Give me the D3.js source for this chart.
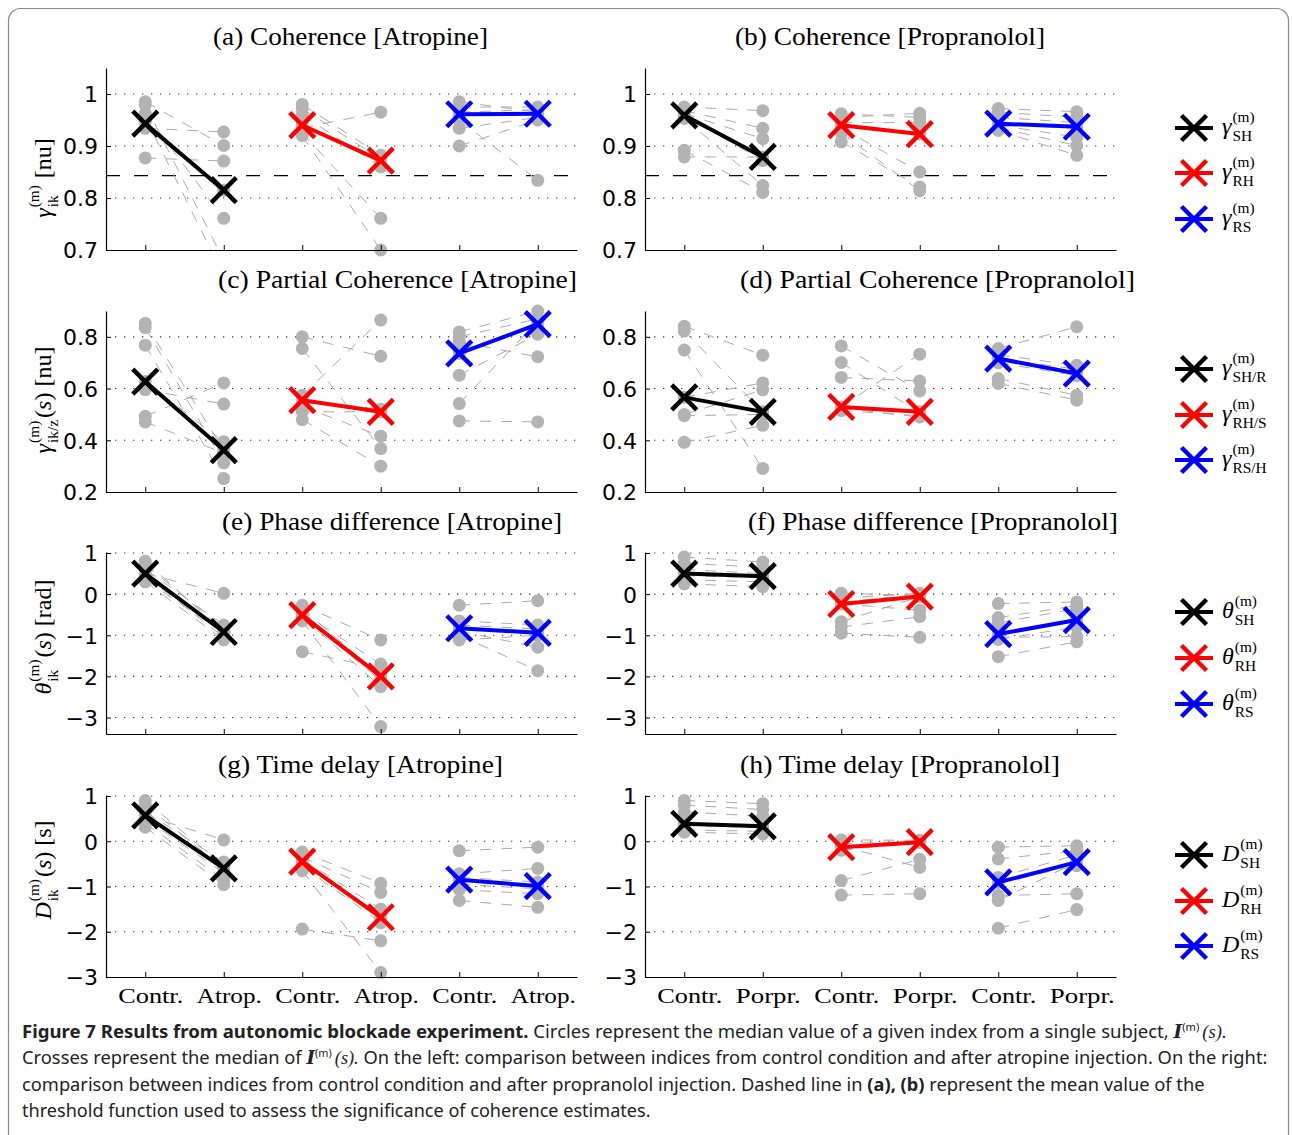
<!DOCTYPE html>
<html><head><meta charset="utf-8">
<script src="https://cdn.jsdelivr.net/npm/d3@7/dist/d3.min.js"></script>
<style>
body{margin:0;background:#fff;}
svg{display:block;}
</style></head>
<body>
<svg id="chart" width="1292" height="1135"></svg>
<script>
// ================= DATA =================
const groupNames = ["SH", "RH", "RS"];
const groupColors = ["#000000", "#ff0000", "#0000ff"];
const xTickLabelsLeft = ["Contr.", "Atrop.", "Contr.", "Atrop.", "Contr.", "Atrop."];
const xTickLabelsRight = ["Contr.", "Porpr.", "Contr.", "Porpr.", "Contr.", "Porpr."];
const panelTitles = [
  "(a) Coherence [Atropine]", "(b) Coherence [Propranolol]",
  "(c) Partial Coherence [Atropine]", "(d) Partial Coherence [Propranolol]",
  "(e) Phase difference [Atropine]", "(f) Phase difference [Propranolol]",
  "(g) Time delay [Atropine]", "(h) Time delay [Propranolol]"
];
const yTicksCoh = [0.7, 0.8, 0.9, 1];
const yTickLabelsCoh = ["0.7", "0.8", "0.9", "1"];
const yTicksPCoh = [0.2, 0.4, 0.6, 0.8];
const yTickLabelsPCoh = ["0.2", "0.4", "0.6", "0.8"];
const yTicksPhase = [-3, -2, -1, 0, 1];
const yTickLabelsPhase = ["\u22123", "\u22122", "\u22121", "0", "1"];
const yTicksDelay = [-3, -2, -1, 0, 1];
const yTickLabelsDelay = ["\u22123", "\u22122", "\u22121", "0", "1"];
const thresholdCoh = 0.843;

// per panel: [SH, RH, RS] subjects, control vs treatment (paired by index)
const a_contr = [[0.985, 0.979, 0.963, 0.946, 0.934, 0.877, 0.955],
                 [0.98, 0.972, 0.96, 0.94, 0.935, 0.925, 0.92],
                 [0.985, 0.975, 0.965, 0.961, 0.95, 0.934, 0.90]];
const a_treat = [[0.901, 0.68, 0.761, 0.815, 0.927, 0.871, 0.65],
                 [0.882, 0.875, 0.86, 0.872, 0.965, 0.761, 0.70],
                 [0.965, 0.975, 0.97, 0.962, 0.834, 0.955, 0.95]];
const a_median = [[0.943, 0.815], [0.940, 0.872], [0.961, 0.962]];

const b_contr = [[0.975, 0.968, 0.962, 0.959, 0.953, 0.892, 0.879],
                 [0.962, 0.955, 0.945, 0.94, 0.935, 0.925, 0.908],
                 [0.972, 0.965, 0.955, 0.943, 0.94, 0.935, 0.93]];
const b_treat = [[0.968, 0.934, 0.914, 0.872, 0.824, 0.811, 0.879],
                 [0.955, 0.963, 0.945, 0.923, 0.85, 0.814, 0.821],
                 [0.966, 0.955, 0.945, 0.937, 0.917, 0.901, 0.882]];
const b_median = [[0.959, 0.879], [0.940, 0.923], [0.943, 0.937]];

const c_contr = [[0.852, 0.836, 0.768, 0.627, 0.596, 0.493, 0.471],
                 [0.80, 0.755, 0.574, 0.555, 0.53, 0.51, 0.48],
                 [0.819, 0.80, 0.78, 0.736, 0.652, 0.542, 0.475]];
const c_treat = [[0.362, 0.313, 0.252, 0.394, 0.54, 0.622, 0.35],
                 [0.725, 0.368, 0.865, 0.52, 0.416, 0.51, 0.30],
                 [0.90, 0.87, 0.723, 0.849, 0.81, 0.86, 0.471]];
const c_median = [[0.627, 0.362], [0.555, 0.51], [0.736, 0.849]];

const d_contr = [[0.841, 0.823, 0.749, 0.566, 0.50, 0.495, 0.392],
                 [0.765, 0.701, 0.643, 0.529, 0.525, 0.52, 0.515],
                 [0.755, 0.73, 0.716, 0.716, 0.70, 0.639, 0.62]];
const d_treat = [[0.729, 0.51, 0.291, 0.622, 0.595, 0.50, 0.458],
                 [0.591, 0.505, 0.629, 0.733, 0.49, 0.51, 0.495],
                 [0.839, 0.69, 0.675, 0.658, 0.65, 0.574, 0.555]];
const d_median = [[0.566, 0.51], [0.529, 0.51], [0.716, 0.658]];

const e_contr = [[0.80, 0.72, 0.60, 0.50, 0.45, 0.35, 0.30],
                 [-0.27, -0.35, -0.45, -0.51, -0.55, -0.65, -1.40],
                 [-0.27, -0.65, -0.75, -0.83, -0.9, -1.0, -1.115]];
const e_treat = [[-0.92, -0.85, -0.75, 0.02, -1.05, -0.95, -1.11],
                 [-1.115, -2.0, -1.70, -2.1, -2.25, -3.22, -1.80],
                 [-0.16, -0.75, -0.85, -0.94, -1.29, -1.86, -1.0]];
const e_median = [[0.50, -0.92], [-0.51, -2.0], [-0.83, -0.94]];

const f_contr = [[0.90, 0.75, 0.60, 0.50, 0.45, 0.35, 0.25],
                 [0.02, -0.10, -0.20, -0.24, -0.67, -0.80, -0.95],
                 [-0.23, -0.57, -0.70, -0.97, -1.05, -1.1, -1.52]];
const f_treat = [[0.78, 0.65, 0.50, 0.44, 0.40, 0.30, 0.18],
                 [-0.03, 0.02, 0.0, -0.39, -0.06, -0.55, -1.05],
                 [-0.19, -0.28, -0.35, -0.63, -1.03, -0.80, -1.16]];
const f_median = [[0.50, 0.436], [-0.24, -0.06], [-0.97, -0.63]];

const g_contr = [[0.90, 0.80, 0.65, 0.57, 0.50, 0.40, 0.31],
                 [-0.24, -0.35, -0.40, -0.45, -0.55, -0.65, -1.94],
                 [-0.21, -0.72, -0.80, -0.85, -0.95, -1.07, -1.31]];
const g_treat = [[-0.55, -0.60, -0.46, 0.03, -0.70, -0.85, -0.96],
                 [-0.93, -1.13, -1.50, -1.68, -1.80, -2.90, -2.20],
                 [-0.13, -0.60, -0.90, -0.99, -1.05, -1.16, -1.46]];
const g_median = [[0.57, -0.60], [-0.45, -1.68], [-0.85, -0.99]];

const h_contr = [[0.90, 0.80, 0.65, 0.39, 0.35, 0.25, 0.20],
                 [0.03, -0.05, -0.10, -0.13, -0.20, -0.87, -1.19],
                 [-0.13, -0.39, -0.80, -0.91, -1.20, -1.31, -1.92]];
const h_treat = [[0.83, 0.70, 0.55, 0.33, 0.30, 0.22, 0.16],
                 [0.02, 0.0, -0.58, -0.02, -0.02, -0.40, -1.16],
                 [-0.10, -0.21, -0.30, -0.54, -1.16, -0.46, -1.51]];
const h_median = [[0.385, 0.33], [-0.13, -0.02], [-0.91, -0.46]];

const legendBases = ["\u03B3", "\u03B3", "\u03B8", "D"];
const legendSubs = [["SH", "RH", "RS"], ["SH/R", "RH/S", "RS/H"], ["SH", "RH", "RS"], ["SH", "RH", "RS"]];

// ================= LAYOUT =================
const svg = d3.select("#chart");
const SERIF = "'Liberation Serif','DejaVu Serif',serif";
const SANS = "'DejaVu Sans','Liberation Sans',sans-serif";
const CAP = "'Noto Sans','Open Sans',sans-serif";

svg.append("rect").attr("x", 8.5).attr("y", 8.5).attr("width", 1280).attr("height", 1170)
  .attr("rx", 12).attr("fill", "none").attr("stroke", "#8a8a8a").attr("stroke-width", 1.2);

const colRange = [[106, 577], [645, 1116]];
const rowRange = [[250, 68], [492, 311], [734, 553], [977, 796]];
const rowDomain = [[0.7, 1.05], [0.2, 0.9], [-3.4, 1], [-3, 1]];
const titleBase = [45, 288, 530, 773];
const titleX = [213, 735, 218, 740, 222, 748, 218, 740];
const titleW = [275, 310, 359, 395, 340, 370, 285, 320];

const panels = [
  {row: 0, col: 0, contr: a_contr, treat: a_treat, med: a_median, yt: yTicksCoh, ytl: yTickLabelsCoh, thr: thresholdCoh},
  {row: 0, col: 1, contr: b_contr, treat: b_treat, med: b_median, yt: yTicksCoh, ytl: yTickLabelsCoh, thr: thresholdCoh},
  {row: 1, col: 0, contr: c_contr, treat: c_treat, med: c_median, yt: yTicksPCoh, ytl: yTickLabelsPCoh},
  {row: 1, col: 1, contr: d_contr, treat: d_treat, med: d_median, yt: yTicksPCoh, ytl: yTickLabelsPCoh},
  {row: 2, col: 0, contr: e_contr, treat: e_treat, med: e_median, yt: yTicksPhase, ytl: yTickLabelsPhase},
  {row: 2, col: 1, contr: f_contr, treat: f_treat, med: f_median, yt: yTicksPhase, ytl: yTickLabelsPhase},
  {row: 3, col: 0, contr: g_contr, treat: g_treat, med: g_median, yt: yTicksDelay, ytl: yTickLabelsDelay},
  {row: 3, col: 1, contr: h_contr, treat: h_treat, med: h_median, yt: yTicksDelay, ytl: yTickLabelsDelay}
];

function drawCross(g, cx, cy, s, color, w) {
  g.append("line").attr("x1", cx - s).attr("y1", cy - s).attr("x2", cx + s).attr("y2", cy + s)
    .attr("stroke", color).attr("stroke-width", w);
  g.append("line").attr("x1", cx - s).attr("y1", cy + s).attr("x2", cx + s).attr("y2", cy - s)
    .attr("stroke", color).attr("stroke-width", w);
}

panels.forEach((p, pi) => {
  const [x0, x1] = colRange[p.col];
  const [yb, yt] = rowRange[p.row];
  const dom = rowDomain[p.row];
  const x = d3.scaleLinear().domain([0.5, 6.5]).range([x0, x1]);
  const y = d3.scaleLinear().domain(dom).range([yb, yt]);
  const g = svg.append("g");
  const clipId = "clip" + pi;
  svg.append("clipPath").attr("id", clipId).append("rect")
    .attr("x", x0).attr("y", yt).attr("width", x1 - x0).attr("height", yb - yt);

  // dotted grid
  p.yt.filter(t => t > dom[0] + 1e-9).forEach(t => {
    g.append("line").attr("x1", x0).attr("x2", x1).attr("y1", y(t)).attr("y2", y(t))
      .attr("stroke", "#333").attr("stroke-width", 1.1).attr("stroke-dasharray", "1.3,7.7");
  });
  // threshold
  if (p.thr !== undefined) {
    g.append("line").attr("x1", x0).attr("x2", x1).attr("y1", y(p.thr)).attr("y2", y(p.thr))
      .attr("stroke", "#000").attr("stroke-width", 1.1).attr("stroke-dasharray", "14,14");
  }
  // subject lines
  const gl = g.append("g").attr("clip-path", `url(#${clipId})`);
  for (let k = 0; k < 3; k++) {
    p.contr[k].forEach((v, i) => {
      gl.append("line").attr("x1", x(2 * k + 1)).attr("y1", y(v))
        .attr("x2", x(2 * k + 2)).attr("y2", y(p.treat[k][i]))
        .attr("stroke", "#ababab").attr("stroke-width", 1).attr("stroke-dasharray", "11,10");
    });
  }
  // circles
  const inDom = v => v >= dom[0] - 0.005 && v <= dom[1];
  for (let k = 0; k < 3; k++) {
    p.contr[k].filter(inDom).forEach(v => g.append("circle").attr("cx", x(2 * k + 1)).attr("cy", y(v)).attr("r", 6.5).attr("fill", "#b3b3b3"));
    p.treat[k].filter(inDom).forEach(v => g.append("circle").attr("cx", x(2 * k + 2)).attr("cy", y(v)).attr("r", 6.5).attr("fill", "#b3b3b3"));
  }
  // medians
  for (let k = 0; k < 3; k++) {
    const m = p.med[k];
    g.append("line").attr("x1", x(2 * k + 1)).attr("y1", y(m[0])).attr("x2", x(2 * k + 2)).attr("y2", y(m[1]))
      .attr("stroke", groupColors[k]).attr("stroke-width", 4);
    drawCross(g, x(2 * k + 1), y(m[0]), 12.5, groupColors[k], 4.5);
    drawCross(g, x(2 * k + 2), y(m[1]), 12.5, groupColors[k], 4.5);
  }
  // axes
  const ay = g.append("g").attr("transform", `translate(${x0},0)`)
    .call(d3.axisLeft(y).tickValues(p.yt).tickSize(-5).tickSizeOuter(0).tickPadding(8)
      .tickFormat((d, i) => p.ytl[i]));
  ay.selectAll("text").attr("font-family", SANS).attr("font-size", 22).attr("fill", "#000").attr("dy", "0.36em");
  const xl = p.col === 0 ? xTickLabelsLeft : xTickLabelsRight;
  const ax = g.append("g").attr("transform", `translate(0,${yb})`)
    .call(d3.axisBottom(x).tickValues([1, 2, 3, 4, 5, 6]).tickSize(-5).tickSizeOuter(0).tickPadding(10)
      .tickFormat(d => p.row === 3 ? xl[d - 1] : ""));
  ax.selectAll("text").attr("font-family", SERIF).attr("font-size", 22).attr("fill", "#000").attr("dx", 5);
  if (p.row === 3) ax.selectAll("text").attr("textLength", 65).attr("lengthAdjust", "spacingAndGlyphs");
  [ay, ax].forEach(a => { a.select(".domain").attr("stroke", "#000").attr("stroke-width", 1.2); a.selectAll(".tick line").attr("stroke", "#000"); });

  // title
  svg.append("text").attr("x", titleX[pi]).attr("y", titleBase[p.row]).attr("font-family", SERIF)
    .attr("font-size", 25).attr("fill", "#000").style("white-space", "pre")
    .attr("textLength", titleW[pi]).attr("lengthAdjust", "spacingAndGlyphs").text(panelTitles[pi]);
});

// math label helper
function mathText(parent, pieces, size) {
  const g = parent.append("g");
  let cx = 0;
  pieces.forEach(p => {
    if (p.sup !== undefined || p.sub !== undefined) {
      let w = 0; const s = size * 0.64;
      if (p.sup) { const t = g.append("text").attr("x", cx).attr("y", -size * 0.48).attr("font-size", s).attr("font-family", SERIF).text(p.sup); w = Math.max(w, t.node().getComputedTextLength()); }
      if (p.sub) { const t = g.append("text").attr("x", cx).attr("y", size * 0.3).attr("font-size", s).attr("font-family", SERIF).text(p.sub); w = Math.max(w, t.node().getComputedTextLength()); }
      cx += w + size * 0.08 + (p.pad || 0);
    } else {
      const t = g.append("text").attr("x", cx).attr("y", 0).attr("font-size", size).attr("font-family", SERIF)
        .attr("font-style", p.italic ? "italic" : "normal").text(p.t);
      cx += t.node().getComputedTextLength() + (p.pad || 0);
    }
  });
  return {g, width: cx};
}

// legends
const legendRows = [[128, 173, 219], [369, 415, 460], [612, 658, 704], [855, 901, 946]];
legendRows.forEach((ys, r) => {
  ys.forEach((yy, k) => {
    const g = svg.append("g");
    g.append("line").attr("x1", 1175).attr("x2", 1213).attr("y1", yy).attr("y2", yy).attr("stroke", groupColors[k]).attr("stroke-width", 4);
    drawCross(g, 1194, yy, 12.5, groupColors[k], 4.5);
    const m = mathText(svg, [{t: legendBases[r], italic: true, pad: 1}, {sup: "(m)", sub: legendSubs[r][k]}], 24);
    m.g.attr("transform", `translate(1222,${yy + 6})`);
  });
});

// y labels
const yLabelDefs = [
  {c: 178, pieces: [{t: "\u03B3", italic: true, pad: 1}, {sup: "(m)", sub: "ik", pad: 5}, {t: "[nu]"}]},
  {c: 400, pieces: [{t: "\u03B3", italic: true, pad: 1}, {sup: "(m)", sub: "ik/z"}, {t: "("}, {t: "s", italic: true}, {t: ")", pad: 6}, {t: "[nu]"}]},
  {c: 637, pieces: [{t: "\u03B8", italic: true, pad: 1}, {sup: "(m)", sub: "ik"}, {t: "("}, {t: "s", italic: true}, {t: ")", pad: 6}, {t: "[rad]"}]},
  {c: 870, pieces: [{t: "D", italic: true, pad: 1}, {sup: "(m)", sub: "ik"}, {t: "("}, {t: "s", italic: true}, {t: ")", pad: 6}, {t: "[s]"}]}
];
yLabelDefs.forEach(d => {
  const outer = svg.append("g").attr("transform", `translate(51,${d.c}) rotate(-90)`);
  const m = mathText(outer, d.pieces, 24);
  m.g.attr("transform", `translate(${-m.width / 2},0)`);
});

// caption
const capLines = [
  {y: 1038, w: 1206, parts: [{t: "Figure 7 Results from autonomic blockade experiment.", b: true}, {t: " Circles represent the median value of a given index from a single subject, "}, {I: true}, {t: "(s).", s: true}]},
  {y: 1064, w: 1246, parts: [{t: "Crosses represent the median of "}, {I: true}, {t: "(s).", s: true}, {t: " On the left: comparison between indices from control condition and after atropine injection. On the right:"}]},
  {y: 1091, w: 1183, parts: [{t: "comparison between indices from control condition and after propranolol injection. Dashed line in "}, {t: "(a), (b)", b: true}, {t: " represent the mean value of the"}]},
  {y: 1117, w: 629, parts: [{t: "threshold function used to assess the significance of coherence estimates."}]}
];
capLines.forEach(L => {
  const t = svg.append("text").attr("x", 0).attr("y", 0).attr("font-family", CAP).attr("font-size", 18.5)
    .attr("fill", "#222").style("white-space", "pre");
  L.parts.forEach(p => {
    if (p.I) {
      t.append("tspan").attr("font-family", "'DejaVu Serif',serif").attr("font-style", "italic").attr("font-weight", "bold").text("I");
      t.append("tspan").attr("font-size", 11).attr("dy", -7).text("(m)");
      t.append("tspan").attr("font-size", 18.5).attr("dy", 7).text("\u2009");
    } else {
      const ts = t.append("tspan").text(p.t);
      if (p.b) ts.attr("font-weight", "bold");
      if (p.s) ts.attr("font-family", SERIF).attr("font-style", "italic");
    }
  });
  const w = t.node().getComputedTextLength();
  t.attr("transform", `translate(22,${L.y}) scale(${L.w / w},1)`);
});
</script>
</body></html>
